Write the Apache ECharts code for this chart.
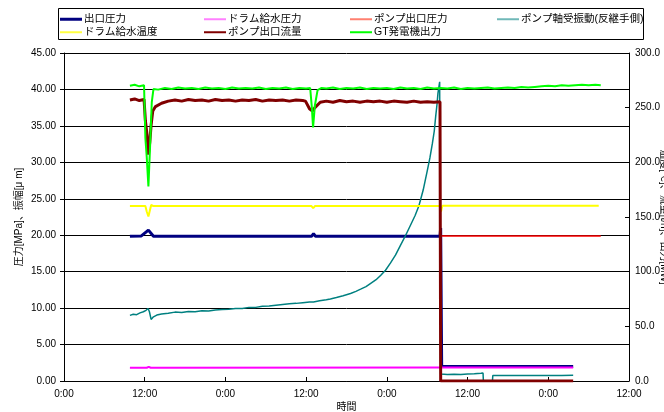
<!DOCTYPE html>
<html><head><meta charset="utf-8">
<script src="https://cdn.jsdelivr.net/npm/echarts@6/dist/echarts.min.js"></script>
<style>html,body{margin:0;padding:0;background:#fff}#c{width:664px;height:412px}</style>
</head><body><div id="c"></div>
<script>
// time in hours from the first 0:00 tick
const xTicks = ['0:00','12:00','0:00','12:00','0:00','12:00','0:00','12:00'];
const seriesNames = ['出口圧力','ドラム給水圧力','ポンプ出口圧力','ポンプ軸受振動(反継手側)','ドラム給水温度','ポンプ出口流量','GT発電機出力'];

// left axis [MPa / μm]
const outletPressure = [[9.8,19.85],[11.5,19.9],[12.55,20.7],[13.3,19.85],[36.8,19.85],[37.1,20.2],[37.4,19.85],[55.9,19.85],[56.0,21.0],[56.15,2.0],[75.7,2.0]];
const drumFeedPressure = [[9.8,1.82],[12.3,1.82],[12.6,1.95],[12.9,1.82],[56.0,1.84],[75.7,1.86]];
const pumpOutletPressure = [[56.05,19.9],[79.8,19.9]];
const bearingVibration = [[9.8,9.0],[10.3,9.15],[10.8,9.1],[11.3,9.35],[11.8,9.5],[12.2,9.7],[12.5,9.95],[12.7,9.5],[12.95,8.45],[13.3,8.8],[13.8,9.05],[14.5,9.2],[15.5,9.3],[16.5,9.45],[17.5,9.4],[18.5,9.55],[19.5,9.5],[20.5,9.65],[21.5,9.6],[22.5,9.75],[23.5,9.8],[24.5,9.85],[25.5,9.95],[26.5,9.95],[27.5,10.1],[28.5,10.1],[29.5,10.25],[30.5,10.3],[31.5,10.4],[32.5,10.5],[33.5,10.6],[34.5,10.65],[35.5,10.75],[36.5,10.85],[37.1,10.85],[38,11.0],[39,11.15],[39.6,11.25],[40.5,11.45],[41.5,11.7],[42.6,12.0],[43.4,12.3],[44.1,12.6],[44.9,12.95],[45.6,13.4],[46.4,13.9],[47.1,14.5],[47.8,15.2],[48.55,16.2],[49.3,17.3],[50.04,18.65],[50.8,20.0],[51.53,21.4],[52.2,22.7],[52.77,24.05],[53.4,26.2],[54.02,28.9],[54.4,30.6],[54.77,32.6],[55.05,34.3],[55.26,36.3],[55.45,37.9],[55.6,39.5],[55.85,41.05],[56.0,0.95],[57,0.9],[58,0.92],[59,0.9],[60,0.95],[61,0.98],[62,1.05],[62.3,1.1],[62.35,0],[63.7,0],[63.75,0.75],[66,0.74],[68,0.76],[70,0.75],[72,0.77],[74,0.76],[75.7,0.78]];

// right axis
const drumFeedTemp = [[9.8,160],[12.1,160],[12.3,155],[12.55,150.5],[12.8,151],[12.96,161],[13.3,160],[36.8,160],[37.05,158],[37.3,160],[55.9,160],[56.05,155],[56.25,160.3],[79.5,160.3]];
const pumpOutletFlow = [[9.8,257],[10.5,258],[11.2,256.5],[11.9,257.5],[12.1,238],[12.35,225],[12.55,207],[12.75,218],[12.95,234],[13.2,247],[13.6,251],[14.5,254],[15.5,256],[16.5,257],[17.5,256],[18.5,257.5],[19.5,256.5],[20.5,257],[21.5,256],[22.5,257.5],[23.5,256.5],[24.5,257],[25.5,256],[26.5,257],[27.5,256.5],[28.5,257.5],[29.5,256],[30.5,257],[31.5,256.5],[32.5,257],[33.5,256],[34.5,257],[35.5,256.5],[35.9,256],[36.5,249],[36.9,247],[37.3,250],[38.1,255],[39,256],[40,255],[41,256.5],[42,255.5],[43,256],[44,255],[45,256],[46,255.5],[47,256],[48,255],[49,256],[50,255.5],[51,255],[52,256],[53,255],[54,255.5],[55,255],[55.9,255.5],[56.0,0],[75.7,0]];
const gtOutput = [[9.8,270],[10.5,271],[11.2,269.5],[11.9,270.5],[12.1,222],[12.3,205],[12.55,178],[12.8,215],[13.05,255],[13.3,267],[14,266.5],[15,268],[16,267],[17,268.5],[18,267.5],[19,268],[20,267],[21,268.5],[22,267.5],[23,268],[24,267],[25,268.5],[26,267.5],[27,268],[28,267.5],[29,268.5],[30,267],[31,268],[32,267.5],[33,268.5],[34,267],[35,268],[36,267.5],[36.6,268],[36.85,250],[37.03,232],[37.3,252],[37.7,266],[38.3,268],[39,267.5],[40,268.5],[41,267],[42,268],[43,267.5],[44,268.5],[45,267],[46,268],[47,267.5],[48,268],[49,267],[50,268.5],[51,267.5],[52,268],[53,267],[54,268.5],[55,267.5],[56,268],[57,267.5],[58,268.5],[59,267],[60,268],[61,267.5],[62,268],[63,268.5],[64,267.5],[65,268],[66,268.5],[67,268],[68,269],[69,268.5],[70,269],[71,269.5],[72,270],[73,269.5],[74,270.5],[75,270],[76,270.5],[77,271],[78,270.5],[79,271],[79.8,270.5]];

const colors = ['#000080','#FF00FF','#FF0000','#008080','#FFFF00','#800000','#00FF00'];
const legendColors = ['#000080','#FF80FF','#FF8070','#70B8B8','#FFFF40','#800000','#00FF00'];
const widths = [3,2,1.5,1.5,2,3,2];
const dataSets = [outletPressure,drumFeedPressure,pumpOutletPressure,bearingVibration,drumFeedTemp,pumpOutletFlow,gtOutput];
const yIdx = [0,0,0,0,1,1,1];
const FONT = '"Liberation Sans","Noto Sans CJK JP",sans-serif';
const legendLeft = [60,204,350,497,60,204,350];
const legendTop = [14,14,14,14,27,27,27];

const chart = echarts.init(document.getElementById('c'), null, {renderer:'canvas'});
chart.setOption({
  animation:false,
  textStyle:{fontFamily:FONT},
  grid:{left:64,right:35,top:53,bottom:31,outerBoundsMode:'none',containLabel:false},
  graphic:[{type:'rect',shape:{x:58.5,y:8.5,width:585,height:31},style:{fill:'#fff',stroke:'#000',lineWidth:1},z:-1}],
  legend:seriesNames.map((n,i)=>({
    left:legendLeft[i], top:legendTop[i], padding:0, orient:'horizontal',
    itemWidth:22, itemHeight:i===0?3:2, itemGap:0,
    textStyle:{fontSize:10.5,color:'#000',fontFamily:FONT,padding:[0,0,0,-3]},
    data:[{name:n,icon:'rect',itemStyle:{color:legendColors[i]}}]
  })),
  xAxis:{
    type:'value', min:0, max:84, interval:12,
    name:'時間', nameLocation:'middle', nameGap:21, nameMoveOverlap:false,
    nameTextStyle:{fontSize:10,color:'#000'},
    axisLine:{lineStyle:{color:'#000',width:1}},
    axisTick:{inside:true,length:4,lineStyle:{color:'#000'}},
    axisLabel:{fontSize:10,color:'#000',margin:8,formatter:v=>xTicks[Math.round(v/12)]},
    splitLine:{show:false}
  },
  yAxis:[{
    type:'value', min:0, max:45, interval:5, position:'left',
    name:'圧力[MPa]、振幅[μ m]', nameLocation:'middle', nameGap:40, nameMoveOverlap:false,
    nameTextStyle:{fontSize:10,color:'#000'},
    axisLine:{show:true,lineStyle:{color:'#000'}},
    axisTick:{show:true,length:4,lineStyle:{color:'#000'}},
    axisLabel:{fontSize:10,color:'#000',margin:8,formatter:v=>v.toFixed(2)},
    splitLine:{show:true,lineStyle:{color:'#000',width:1}}
  },{
    type:'value', min:0, max:300, interval:50, position:'right',
    name:'温度[℃]、流量[t/h]、出力[MW]', nameLocation:'middle', nameGap:30, nameRotate:-90, nameMoveOverlap:false,
    nameTextStyle:{fontSize:10,color:'#000'},
    axisLine:{show:true,lineStyle:{color:'#000'}},
    axisTick:{show:true,inside:true,length:4,lineStyle:{color:'#000'}},
    axisLabel:{fontSize:10,color:'#000',margin:6,formatter:v=>v.toFixed(1)},
    splitLine:{show:false}
  }],
  series:seriesNames.map((n,i)=>({
    name:n, type:'line', yAxisIndex:yIdx[i], data:dataSets[i],
    showSymbol:false, symbol:'none', smooth:false,
    lineStyle:{color:colors[i],width:widths[i]}, itemStyle:{color:colors[i]},
    z:2+i
  }))
});
</script></body></html>
